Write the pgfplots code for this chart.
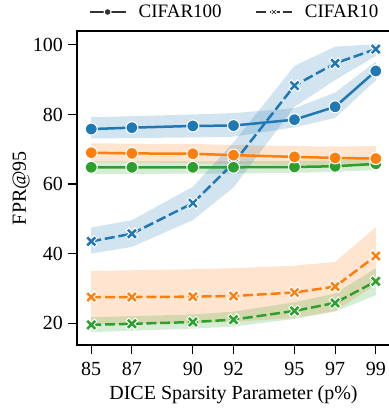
\documentclass[border=0pt]{standalone}
\usepackage{fontspec}
\setmainfont{Liberation Serif}
\usepackage{pgfplots}
\pgfplotsset{compat=1.18}
\usepgfplotslibrary{fillbetween}
\definecolor{cb}{HTML}{1F77B4}
\definecolor{co}{HTML}{FF7F0E}
\definecolor{cg}{HTML}{2CA02C}
\definecolor{lg}{HTML}{333333}
\pgfdeclareplotmark{X}{%
  \pgftransformrotate{45}%
  \pgfpathmoveto{\pgfpoint{0.3\pgfplotmarksize}{0.3\pgfplotmarksize}}%
  \pgfpathlineto{\pgfpoint{0.3\pgfplotmarksize}{\pgfplotmarksize}}%
  \pgfpathlineto{\pgfpoint{-0.3\pgfplotmarksize}{\pgfplotmarksize}}%
  \pgfpathlineto{\pgfpoint{-0.3\pgfplotmarksize}{0.3\pgfplotmarksize}}%
  \pgfpathlineto{\pgfpoint{-\pgfplotmarksize}{0.3\pgfplotmarksize}}%
  \pgfpathlineto{\pgfpoint{-\pgfplotmarksize}{-0.3\pgfplotmarksize}}%
  \pgfpathlineto{\pgfpoint{-0.3\pgfplotmarksize}{-0.3\pgfplotmarksize}}%
  \pgfpathlineto{\pgfpoint{-0.3\pgfplotmarksize}{-\pgfplotmarksize}}%
  \pgfpathlineto{\pgfpoint{0.3\pgfplotmarksize}{-\pgfplotmarksize}}%
  \pgfpathlineto{\pgfpoint{0.3\pgfplotmarksize}{-0.3\pgfplotmarksize}}%
  \pgfpathlineto{\pgfpoint{\pgfplotmarksize}{-0.3\pgfplotmarksize}}%
  \pgfpathlineto{\pgfpoint{\pgfplotmarksize}{0.3\pgfplotmarksize}}%
  \pgfpathclose
  \pgfusepathqfillstroke}
\pgfplotsset{
  c100/.style={#1, line width=2.5bp, solid, mark=*, mark size=6bp,
    mark options={solid, fill=#1, draw=white, line width=1.1bp}},
  c10/.style={#1, line width=2.5bp, dash pattern=on 10bp off 3.8bp, mark=X, mark size=6.3bp,
    mark options={solid, fill=#1, draw=white, line width=1bp}},
}
\begin{document}
\begin{tikzpicture}
\begin{axis}[
  at={(0,0)}, anchor=south west,
  scale only axis, width=313bp, height=314bp,
  xmin=84.3, xmax=99.7, ymin=13.7, ymax=104,
  xtick={85,87,90,92,95,97,99}, ytick={20,40,60,80,100},
  xticklabels={\textrm{85},\textrm{87},\textrm{90},\textrm{92},\textrm{95},\textrm{97},\textrm{99}},
  yticklabels={\textrm{20},\textrm{40},\textrm{60},\textrm{80},\textrm{100}},
  tick align=outside, tick pos=left,
  major tick length=9bp,
  every tick/.style={black, line width=1.1bp},
  axis line style={line width=1.2bp},
  font=\fontsize{20bp}{24bp}\selectfont,
  xticklabel style={inner sep=0pt, yshift=-8bp},
  yticklabel style={inner sep=0pt, xshift=-5bp},
  xlabel={DICE Sparsity Parameter (p\%)},
  ylabel={FPR@95},
  xlabel style={at={(axis description cs:0.5,0)}, anchor=north, inner sep=0pt, yshift=-40bp},
  ylabel style={at={(axis description cs:-0.1502,0.5)}, anchor=south, inner sep=0pt, rotate=0},
  legend style={at={(axis description cs:0.5,1.0605)}, anchor=center, draw=none, fill=none,
    font=\fontsize{19bp}{23bp}\selectfont, inner sep=0pt, nodes={inner sep=0pt},
    legend columns=2,
    /tikz/every odd column/.append style={column sep=12bp},
    /tikz/every even column/.append style={column sep=33bp}},
  legend image code/.code={\draw[mark repeat=2, mark phase=2, #1, mark size=3.5bp, line width=2.2bp] plot coordinates {(0bp,0bp)(18bp,0bp)(36bp,0bp)};},
  legend cell align=left,
  clip=false,
]
\addlegendimage{c100=lg}
\addlegendentry{CIFAR100}
\addlegendimage{c10=lg}
\addlegendentry{CIFAR10}

% ---- CIFAR100 bands ----
\addplot[name path=bu, draw=none, forget plot] coordinates {(85,79.2)(87,79.5)(90,80.0)(92,80.4)(95,81.8)(97,86.3)(99,95.2)};
\addplot[name path=bl, draw=none, forget plot] coordinates {(85,73.1)(87,73.2)(90,73.4)(92,73.6)(95,76.3)(97,79.0)(99,89.8)};
\addplot[cb, fill opacity=0.2, draw=none, forget plot] fill between[of=bu and bl];
\addplot[name path=ou, draw=none, forget plot] coordinates {(85,71.7)(87,71.6)(90,71.5)(92,71.2)(95,70.9)(97,70.8)(99,70.9)};
\addplot[name path=ol, draw=none, forget plot] coordinates {(85,66.2)(87,66.2)(90,66.0)(92,65.8)(95,65.5)(97,65.2)(99,65.0)};
\addplot[co, fill opacity=0.2, draw=none, forget plot] fill between[of=ou and ol];
\addplot[name path=gu, draw=none, forget plot] coordinates {(85,66.5)(87,66.5)(90,66.5)(92,66.5)(95,66.7)(97,66.8)(99,67.6)};
\addplot[name path=gl, draw=none, forget plot] coordinates {(85,62.8)(87,62.9)(90,63.0)(92,63.0)(95,63.2)(97,63.5)(99,64.0)};
\addplot[cg, fill opacity=0.2, draw=none, forget plot] fill between[of=gu and gl];

% ---- CIFAR10 bands ----
\addplot[name path=bu2, draw=none, forget plot] coordinates {(85,47.5)(87,49.6)(90,59.2)(92,72.0)(95,94.0)(97,99.5)(99,100.2)};
\addplot[name path=bl2, draw=none, forget plot] coordinates {(85,40.0)(87,41.9)(90,49.6)(92,59.0)(95,82.2)(97,89.9)(99,96.8)};
\addplot[cb, fill opacity=0.2, draw=none, forget plot] fill between[of=bu2 and bl2];
\addplot[name path=ou2, draw=none, forget plot] coordinates {(85,35.0)(87,35.2)(90,35.5)(92,35.8)(95,36.5)(97,37.6)(99,47.6)};
\addplot[name path=ol2, draw=none, forget plot] coordinates {(85,19.8)(87,19.8)(90,20.0)(92,20.3)(95,21.5)(97,23.5)(99,31.0)};
\addplot[co, fill opacity=0.2, draw=none, forget plot] fill between[of=ou2 and ol2];
\addplot[name path=gu2, draw=none, forget plot] coordinates {(85,21.7)(87,22.0)(90,22.5)(92,23.3)(95,26.0)(97,28.5)(99,35.8)};
\addplot[name path=gl2, draw=none, forget plot] coordinates {(85,17.4)(87,17.8)(90,18.4)(92,19.0)(95,21.2)(97,23.3)(99,28.0)};
\addplot[cg, fill opacity=0.2, draw=none, forget plot] fill between[of=gu2 and gl2];

% lines
\addplot[c10=cb, forget plot] coordinates {(85,43.5)(87,45.7)(90,54.5)(92,66.0)(95,88.3)(97,94.7)(99,98.8)};
\addplot[c100=cb, forget plot] coordinates {(85,75.8)(87,76.2)(90,76.7)(92,76.8)(95,78.5)(97,82.2)(99,92.5)};
\addplot[c100=cg, forget plot] coordinates {(85,64.8)(87,64.8)(90,64.8)(92,64.8)(95,64.9)(97,65.1)(99,65.8)};
\addplot[c100=co, forget plot] coordinates {(85,69.0)(87,68.8)(90,68.7)(92,68.3)(95,67.8)(97,67.5)(99,67.3)};
\addplot[c10=co, forget plot] coordinates {(85,27.5)(87,27.5)(90,27.6)(92,27.8)(95,28.8)(97,30.5)(99,39.3)};
\addplot[c10=cg, forget plot] coordinates {(85,19.5)(87,19.8)(90,20.3)(92,21.0)(95,23.5)(97,25.8)(99,32.0)};
\end{axis}
\pgfresetboundingbox
\useasboundingbox (-77bp,-63bp) rectangle (312bp,345bp);
\end{tikzpicture}
\end{document}
